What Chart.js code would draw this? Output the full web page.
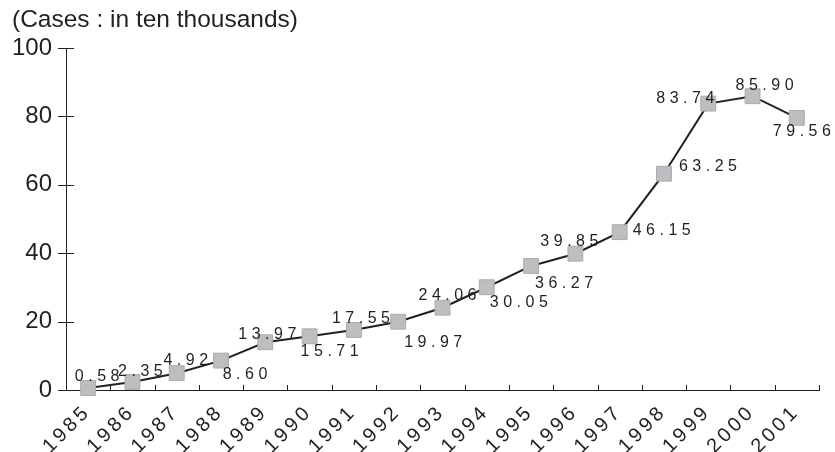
<!DOCTYPE html>
<html>
<head>
<meta charset="utf-8">
<script src="https://cdn.jsdelivr.net/npm/chart.js@4"></script>
<style>
html, body { margin: 0; padding: 0; background: #fff; }
#contenedor { width: 835px; height: 452px; }
</style>
</head>
<body>
<div id="contenedor"><canvas id="chartCasos" width="835" height="452"></canvas></div>
<script>
const anios = ['1985', '1986', '1987', '1988', '1989', '1990', '1991', '1992', '1993',
               '1994', '1995', '1996', '1997', '1998', '1999', '2000', '2001'];
const casos = [0.58, 2.35, 4.92, 8.60, 13.97, 15.71, 17.55, 19.97, 24.06,
               30.05, 36.27, 39.85, 46.15, 63.25, 83.74, 85.90, 79.56];
const ticksY = [0, 20, 40, 60, 80, 100];
const titulo = '(Cases : in ten thousands)';

// donde va cada etiqueta de valor, relativo a su punto (px)
const desplazamientos = [
    [9, -11], [8, -10], [9, -13], [24, 14], [2, -8], [20, 15], [7, -11], [35, 21], [5, -12],
    [32, 15], [33, 18], [-6, -12], [42, -2], [44, -7], [-23, -5], [12, -11], [5, 14]
];

const fuente = '"Liberation Sans", Arial, Helvetica, sans-serif';
const colorTexto = '#231f20';

Chart.defaults.font.family = fuente;
Chart.defaults.color = colorTexto;

// texto con espacio entre letras; alinea el final (derecha) o el centro en x
function textoEspaciado(ctx, texto, x, y, espacio, alinear) {
    const letras = texto.split('');
    const anchos = letras.map(c => ctx.measureText(c).width);
    const total = anchos.reduce((a, b) => a + b, 0) + espacio * (letras.length - 1);
    let px = alinear === 'right' ? x - total : x - total / 2;
    letras.forEach((c, j) => {
        ctx.fillText(c, px, y);
        px += anchos[j] + espacio;
    });
}

const tituloPlugin = {
    id: 'tituloPlugin',
    beforeDraw(chart) {
        const ctx = chart.ctx;
        ctx.save();
        ctx.font = '24.5px ' + fuente;
        ctx.fillStyle = colorTexto;
        ctx.textBaseline = 'middle';
        ctx.textAlign = 'left';
        ctx.fillText(titulo, 12, 20);
        ctx.restore();
    }
};

// marcas de los ejes: en Y cruzan el eje, en X apuntan hacia dentro
const marcasEjes = {
    id: 'marcasEjes',
    beforeDatasetsDraw(chart) {
        const ctx = chart.ctx;
        const x = chart.scales.x;
        const y = chart.scales.y;
        ctx.save();
        ctx.strokeStyle = colorTexto;
        ctx.lineWidth = 1;
        ctx.beginPath();
        y.ticks.forEach(t => {
            const py = Math.round(y.getPixelForValue(t.value)) + 0.5;
            ctx.moveTo(y.right - 8, py);
            ctx.lineTo(y.right + 8, py);
        });
        const n = anios.length;
        for (let i = 0; i <= n; i++) {
            let px;
            if (i === 0) px = x.left;
            else if (i === n) px = x.right;
            else px = (x.getPixelForTick(i - 1) + x.getPixelForTick(i)) / 2;
            px = Math.round(px) + 0.5;
            ctx.moveTo(px, x.top);
            ctx.lineTo(px, x.top - 5);
        }
        ctx.stroke();

        // años inclinados a 45 grados
        ctx.font = '20px ' + fuente;
        ctx.fillStyle = colorTexto;
        ctx.textBaseline = 'middle';
        ctx.textAlign = 'left';
        anios.forEach((anio, i) => {
            ctx.save();
            ctx.translate(x.getPixelForTick(i) - 3, x.top + 21);
            ctx.rotate(-Math.PI / 4);
            textoEspaciado(ctx, anio, 0, 0, 3.5, 'right');
            ctx.restore();
        });
        ctx.restore();
    }
};

const etiquetasValor = {
    id: 'etiquetasValor',
    afterDatasetsDraw(chart) {
        const ctx = chart.ctx;
        const puntos = chart.getDatasetMeta(0).data;
        ctx.save();
        ctx.font = '16px ' + fuente;
        ctx.fillStyle = colorTexto;
        ctx.textBaseline = 'middle';
        ctx.textAlign = 'left';
        puntos.forEach((p, i) => {
            textoEspaciado(ctx, casos[i].toFixed(2),
                p.x + desplazamientos[i][0], p.y + desplazamientos[i][1], 4.5, 'center');
        });
        ctx.restore();
    }
};

const ctxCasos = document.getElementById('chartCasos').getContext('2d');
new Chart(ctxCasos, {
    type: 'line',
    data: {
        labels: anios,
        datasets: [{
            data: casos,
            borderColor: colorTexto,
            borderWidth: 2,
            tension: 0,
            fill: false,
            clip: false,
            pointStyle: 'rect',
            pointRadius: 10.5,
            pointBackgroundColor: '#bcbec0',
            pointBorderColor: '#a9abae',
            pointBorderWidth: 1
        }]
    },
    options: {
        responsive: false,
        animation: false,
        layout: { padding: { top: 48, right: 16, left: 0, bottom: 0 } },
        plugins: {
            legend: { display: false },
            tooltip: { enabled: false },
            title: { display: false }
        },
        scales: {
            x: {
                type: 'category',
                offset: true,
                grid: { display: true, drawOnChartArea: false, drawTicks: false, offset: true, color: 'transparent' },
                border: { display: true, color: colorTexto, width: 1 },
                ticks: { display: false },
                afterFit(scale) { scale.height = 62; }
            },
            y: {
                min: 0,
                max: 100,
                afterBuildTicks(scale) { scale.ticks = ticksY.map(v => ({ value: v })); },
                grid: { display: true, drawOnChartArea: false, drawTicks: true, tickLength: 8, color: 'transparent' },
                border: { display: true, color: colorTexto, width: 1 },
                ticks: { padding: 6, color: colorTexto, font: { size: 24 } },
                afterFit(scale) { scale.width = 66; }
            }
        }
    },
    plugins: [tituloPlugin, marcasEjes, etiquetasValor]
});
</script>
</body>
</html>
